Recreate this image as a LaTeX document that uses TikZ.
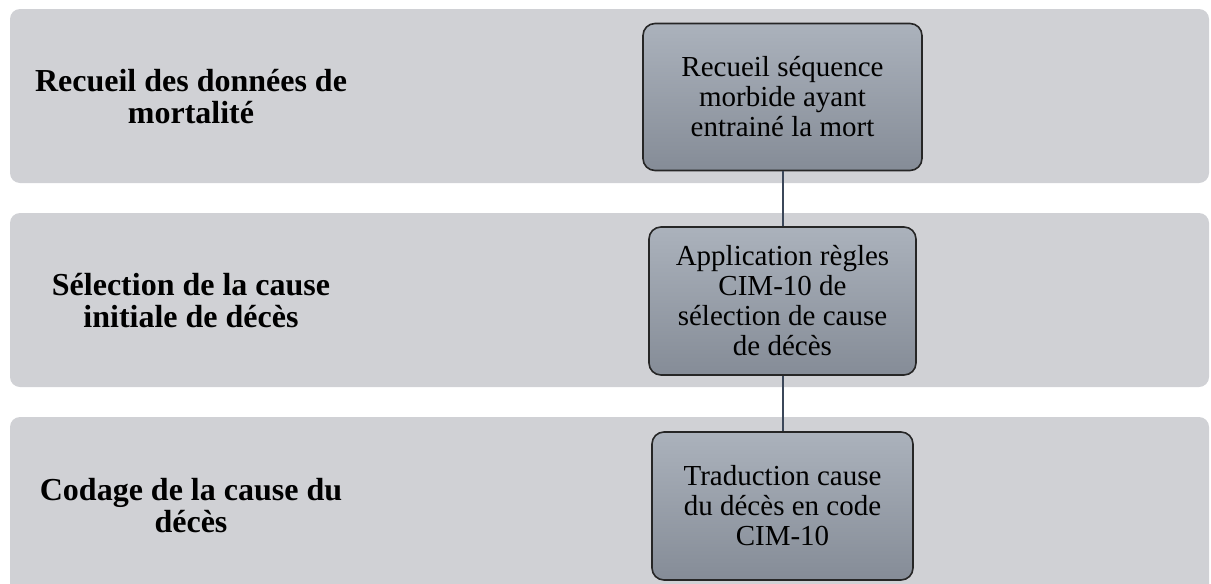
\documentclass[tikz,border=0pt]{standalone}
\usepackage{fontspec}
\setmainfont{Liberation Serif}
\usepackage{tikz}
\usetikzlibrary{positioning}
\definecolor{bandgray}{HTML}{D0D1D5}
\definecolor{boxtop}{HTML}{ABB2BC}
\definecolor{boxbottom}{HTML}{858C97}
\definecolor{linkcol}{HTML}{3B4759}
\tikzset{
  band/.style={fill=bandgray, draw=none, rounded corners=10pt,
    minimum width=1199pt, inner sep=0pt},
  phase/.style={font=\fontsize{32}{32}\selectfont\bfseries, align=center},
  stepbox/.style={draw=black!85, line width=1.6pt, rounded corners=12pt,
    top color=boxtop, bottom color=boxbottom, align=center,
    font=\fontsize{29}{30}\selectfont, inner sep=0pt}
}

\begin{document}
\begin{tikzpicture}[x=1pt, y=-1pt]
    \useasboundingbox (0,0) rectangle (1211,584);

    \node[band, minimum height=174pt]
      (Recueil) at (609.5,96) {};
    \node[band, minimum height=174pt]
      (Selection) at (609.5,300) {};
    \node[band, minimum height=190pt]
      (Codage) at (609.5,512) {};

    \node[phase]
      (RecueilTxt) at (191,97) {Recueil des données de\\mortalité};
    \node[phase]
      (SelectionTxt) at (191,301) {Sélection de la cause\\initiale de décès};
    \node[phase]
      (CodageTxt) at (191,506) {Codage de la cause du\\décès};

    \node[stepbox, minimum width=279pt, minimum height=147pt]
      (Sequence) at (782.5,97) {Recueil séquence\\morbide ayant\\entrainé la mort};
    \node[stepbox, minimum width=267pt, minimum height=148pt]
      (Regles) at (782.5,301) {Application règles\\CIM-10 de\\sélection de cause\\de décès};
    \node[stepbox, minimum width=261pt, minimum height=148pt]
      (Traduction) at (782.5,506) {Traduction cause\\du décès en code\\CIM-10};

    \path[draw=linkcol, line width=2pt]
      (Sequence) edge (Regles)
      (Regles) edge (Traduction);

\end{tikzpicture}
\end{document}
